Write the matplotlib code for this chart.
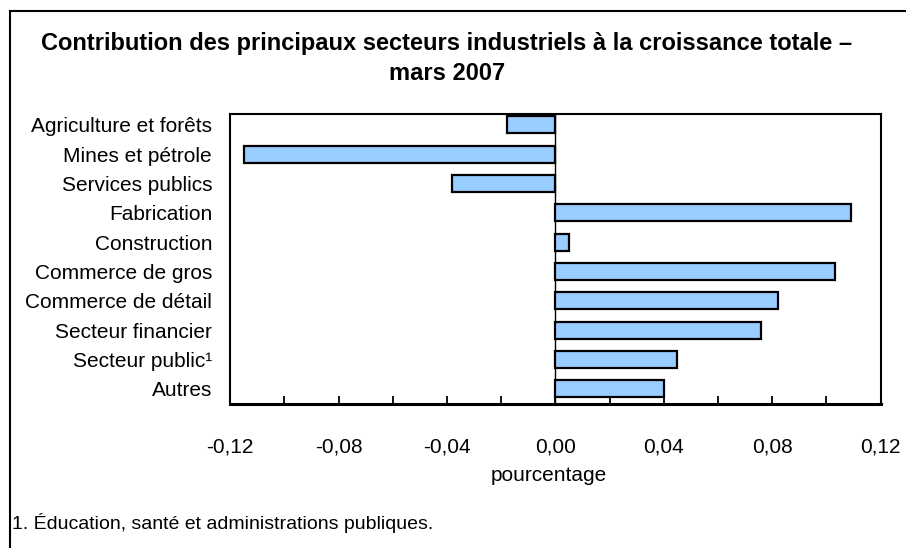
import numpy as np
import matplotlib.pyplot as plt
from matplotlib.patches import Rectangle
from matplotlib.ticker import MultipleLocator, FuncFormatter

plt.rcParams["font.family"] = ["Liberation Sans", "DejaVu Sans"]

sectors = [
    "Agriculture et forêts",
    "Mines et pétrole",
    "Services publics",
    "Fabrication",
    "Construction",
    "Commerce de gros",
    "Commerce de détail",
    "Secteur financier",
    "Secteur public¹",
    "Autres",
]
contribution = [-0.018, -0.115, -0.038, 0.109, 0.005, 0.103, 0.082, 0.076, 0.045, 0.040]

title = "Contribution des principaux secteurs industriels à la croissance totale –\nmars 2007"
note = "1. Éducation, santé et administrations publiques."


def main():
    fig = plt.figure(figsize=(9.06, 5.48), dpi=100)
    ax = fig.add_axes([0.254, 0.263, 0.718, 0.529])

    y = np.arange(len(sectors))
    ax.barh(y, contribution, height=0.58, color="#99CCFF", edgecolor="black", linewidth=1.6, zorder=3)
    ax.axvline(0, color="black", linewidth=1.0, zorder=2)

    ax.set_ylim(len(sectors) - 0.49, -0.375)
    ax.set_xlim(-0.12, 0.12)
    ax.set_yticks(y)
    ax.set_yticklabels(sectors, fontsize=15)
    ax.tick_params(axis="y", length=0, pad=13)

    ax.xaxis.set_major_locator(MultipleLocator(0.04))
    ax.xaxis.set_minor_locator(MultipleLocator(0.02))
    ax.xaxis.set_major_formatter(FuncFormatter(lambda v, _: f"{v:.2f}".replace(".", ",").replace("-0,00", "0,00")))
    ax.tick_params(axis="x", which="both", direction="in", length=6, width=1.3, labelsize=15, pad=24)
    ax.set_xlabel("pourcentage", fontsize=15, labelpad=7)
    ax.xaxis.label.set_x(0.49)

    for side in ["top", "left", "right"]:
        ax.spines[side].set_linewidth(1.5)
    ax.spines["bottom"].set_linewidth(2.2)

    fig.text(0.493, 0.893, title, ha="center", va="center", fontsize=17, fontweight="bold", linespacing=1.35)
    fig.text(0.013, 0.046, note, ha="left", va="center", fontsize=14)

    # frame around the figure (right and bottom edges fall outside the image)
    fig.patches.append(Rectangle((10 / 906, -0.05), 1.05, 1 - 11 / 548 + 0.05, transform=fig.transFigure,
                                 fill=False, edgecolor="black", linewidth=1.5))

    fig.savefig("out.png", dpi=100)


if __name__ == "__main__":
    main()
